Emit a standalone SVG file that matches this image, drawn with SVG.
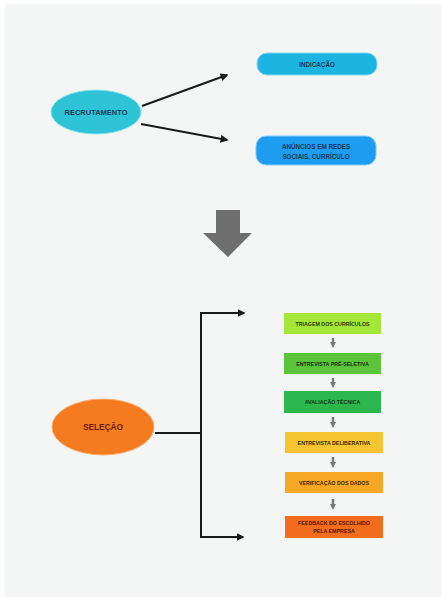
<svg xmlns="http://www.w3.org/2000/svg" width="443" height="597" viewBox="0 0 443 597">
<defs>
<style>
.t{font-family:"Liberation Sans",Arial,sans-serif;font-weight:bold;text-anchor:middle;dominant-baseline:central}
.conn{stroke:#1a1a1a;stroke-width:2;fill:none}
.step{stroke:#7a7a7a;stroke-width:2.5;fill:none}
</style>
<marker id="ah" viewBox="0 0 10 10" refX="8" refY="5" markerWidth="4" markerHeight="4" orient="auto" markerUnits="strokeWidth"><path d="M0,0 L10,5 L0,10 z" fill="#1a1a1a"/></marker>
<marker id="sh" viewBox="0 0 10 10" refX="5" refY="5" markerWidth="2.4" markerHeight="2.4" orient="auto" markerUnits="strokeWidth"><path d="M0,0 L10,5 L0,10 z" fill="#7a7a7a"/></marker>
</defs>
<rect x="0" y="0" width="443" height="597" fill="#ffffff"/>
<rect x="5" y="4" width="436" height="593" fill="#f4f6f5"/>

<g id="connectors">
<line class="conn" x1="142" y1="106" x2="227" y2="75" marker-end="url(#ah)"/>
<line class="conn" x1="141" y1="124" x2="227" y2="140" marker-end="url(#ah)"/>
<line class="conn" x1="155" y1="433" x2="201" y2="433"/>
<line class="conn" x1="201" y1="313" x2="201" y2="537"/>
<line class="conn" x1="200" y1="313" x2="244" y2="313" marker-end="url(#ah)"/>
<line class="conn" x1="200" y1="537" x2="243" y2="537" marker-end="url(#ah)"/>
<line class="step" x1="333" y1="338" x2="333" y2="345" marker-end="url(#sh)"/>
<line class="step" x1="333" y1="378" x2="333" y2="385" marker-end="url(#sh)"/>
<line class="step" x1="333" y1="417" x2="333" y2="425" marker-end="url(#sh)"/>
<line class="step" x1="333" y1="457" x2="333" y2="465" marker-end="url(#sh)"/>
<line class="step" x1="333" y1="499" x2="333" y2="507" marker-end="url(#sh)"/>
</g>

<g id="recrutamento">
<ellipse cx="96" cy="112" rx="45" ry="22" fill="#2ec4d6" stroke="#7fe0ea" stroke-width="1"/>
<text class="t" x="96" y="112" font-size="7.5" fill="#1b3a5a">RECRUTAMENTO</text>
</g>
<g id="indicacao">
<rect x="257" y="53" width="120" height="22" rx="10" fill="#1cb4e0" stroke="#7fd8f0" stroke-width="1"/>
<text class="t" x="317" y="64" font-size="6.3" fill="#1b3a5a">INDICAÇÃO</text>
</g>
<g id="anuncios">
<rect x="256" y="136" width="120" height="29" rx="10" fill="#1e9df0" stroke="#80ccf8" stroke-width="1"/>
<text class="t" x="316" y="146" font-size="6.3" fill="#1b3a5a">ANÚNCIOS EM REDES</text>
<text class="t" x="316" y="156" font-size="6.3" fill="#1b3a5a">SOCIAIS, CURRÍCULO</text>
</g>

<g id="seta-grande">
<path d="M216,210 L240,210 L240,233 L252,233 L228,257 L203,233 L216,233 Z" fill="#6e6e6e"/>
</g>

<g id="selecao">
<ellipse cx="103" cy="427" rx="51" ry="28" fill="#f47b20" stroke="#f9b070" stroke-width="1"/>
<text class="t" x="103" y="427" font-size="8.3" fill="#6e1a08">SELEÇÃO</text>
</g>

<g id="triagem">
<rect x="284" y="313" width="97" height="21" fill="#a5e63a"/>
<text class="t" x="332.5" y="323.5" font-size="5.3" fill="#23400a">TRIAGEM DOS CURRÍCULOS</text>
</g>
<g id="entrevista-pre">
<rect x="284" y="353" width="97" height="21" fill="#5cc43a"/>
<text class="t" x="332.5" y="363.5" font-size="5.3" fill="#12300a">ENTREVISTA PRÉ-SELETIVA</text>
</g>
<g id="avaliacao">
<rect x="284" y="391" width="97" height="22" fill="#2bb64e"/>
<text class="t" x="332.5" y="402" font-size="5.3" fill="#123a10">AVALIAÇÃO TÉCNICA</text>
</g>
<g id="entrevista-del">
<rect x="285" y="432" width="98" height="21" fill="#f4c531"/>
<text class="t" x="334" y="442.5" font-size="5.3" fill="#3a2800">ENTREVISTA DELIBERATIVA</text>
</g>
<g id="verificacao">
<rect x="285" y="472" width="98" height="21" fill="#f6a724"/>
<text class="t" x="334" y="482.5" font-size="5.3" fill="#4a2400">VERIFICAÇÃO DOS DADOS</text>
</g>
<g id="feedback">
<rect x="285" y="516" width="98" height="22" fill="#f26c1e"/>
<text class="t" x="334" y="523" font-size="5.3" fill="#5a1400">FEEDBACK DO ESCOLHIDO</text>
<text class="t" x="334" y="531" font-size="5.3" fill="#5a1400">PELA EMPRESA</text>
</g>
</svg>
